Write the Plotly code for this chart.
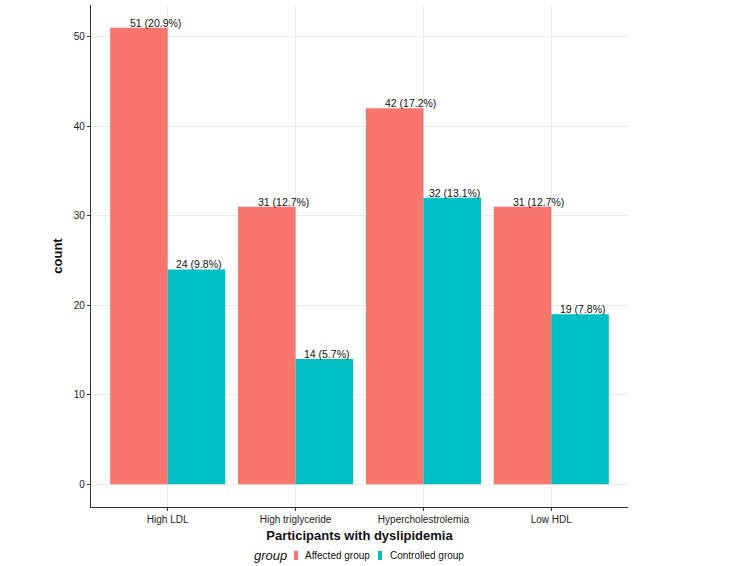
import plotly.graph_objects as go

categories = ["High LDL", "High triglyceride", "Hypercholestrolemia", "Low HDL"]
affected = [51, 31, 42, 31]
controlled = [24, 14, 32, 19]
affected_labels = ["51 (20.9%)", "31 (12.7%)", "42 (17.2%)", "31 (12.7%)"]
controlled_labels = ["24 (9.8%)", "14 (5.7%)", "32 (13.1%)", "19 (7.8%)"]
group_names = ["Affected group", "Controlled group"]
colors = ["#F8766D", "#00BFC4"]

W, H = 750, 566
L, R, T, B = 91, 122, 5, 59
PW, PH = W - L - R, H - T - B
FONT = "Liberation Sans, Arial, Helvetica, sans-serif"


def px(x):
    return (x - L) / PW


def py(y):
    return (H - B - y) / PH


fig = go.Figure()
fig.add_trace(go.Bar(x=categories, y=affected, name=group_names[0],
                     marker=dict(color=colors[0], line=dict(width=0)), showlegend=False))
fig.add_trace(go.Bar(x=categories, y=controlled, name=group_names[1],
                     marker=dict(color=colors[1], line=dict(width=0)), showlegend=False))

annotations = []
for c, v, t in zip(categories, affected, affected_labels):
    annotations.append(dict(x=c, y=v, text=t, xref="x", yref="y", showarrow=False,
                            xanchor="center", yanchor="bottom", xshift=-12.5, yshift=-3,
                            font=dict(family=FONT, size=10.5, color="#111")))
for c, v, t in zip(categories, controlled, controlled_labels):
    annotations.append(dict(x=c, y=v, text=t, xref="x", yref="y", showarrow=False,
                            xanchor="center", yanchor="bottom", xshift=31.5, yshift=-3,
                            font=dict(family=FONT, size=10.5, color="#111")))

# legend (drawn manually to mimic ggplot's bottom legend)
annotations.append(dict(x=px(270), y=py(555), xref="paper", yref="paper", text="<i>group</i>",
                        showarrow=False, xanchor="center", yanchor="middle",
                        font=dict(family=FONT, size=13, color="#111")))
annotations.append(dict(x=px(303), y=py(555), xref="paper", yref="paper", text=group_names[0],
                        showarrow=False, xanchor="left", yanchor="middle",
                        font=dict(family=FONT, size=10, color="#111")))
annotations.append(dict(x=px(388), y=py(555), xref="paper", yref="paper", text=group_names[1],
                        showarrow=False, xanchor="left", yanchor="middle",
                        font=dict(family=FONT, size=10, color="#111")))
shapes = [
    dict(type="rect", xref="paper", yref="paper", x0=px(294), x1=px(298), y0=py(560), y1=py(551),
         fillcolor=colors[0], line=dict(width=0)),
    dict(type="rect", xref="paper", yref="paper", x0=px(378), x1=px(382), y0=py(560), y1=py(551),
         fillcolor=colors[1], line=dict(width=0)),
]

fig.update_layout(
    width=W, height=H,
    margin=dict(l=L, r=R, t=T, b=B, autoexpand=False),
    plot_bgcolor="white", paper_bgcolor="white",
    barmode="group", bargap=0.1, bargroupgap=0,
    font=dict(family=FONT, size=10, color="#111"),
    annotations=annotations, shapes=shapes,
    xaxis=dict(range=[-0.6, 3.6], showline=True, linecolor="#333", linewidth=1.3,
               ticks="outside", ticklen=3, tickcolor="#333", tickwidth=1.2,
               showgrid=True, gridcolor="#EBEBEB", gridwidth=1, zeroline=False,
               tickfont=dict(family=FONT, size=10, color="#222"),
               title=dict(text="<b>Participants with dyslipidemia</b>", standoff=6,
                          font=dict(family=FONT, size=13, color="#111"))),
    yaxis=dict(range=[-2.55, 53.55], showline=True, linecolor="#333", linewidth=1.3,
               ticks="outside", ticklen=3, tickcolor="#333", tickwidth=1.2,
               tickvals=[0, 10, 20, 30, 40, 50],
               showgrid=True, gridcolor="#EBEBEB", gridwidth=1, zeroline=False,
               tickfont=dict(family=FONT, size=10, color="#222"),
               title=dict(text="<b>count</b>", standoff=8,
                          font=dict(family=FONT, size=13, color="#111"))),
)

fig.write_html("out.html", config={"displayModeBar": False},
               post_script="document.body.style.margin='0';")
